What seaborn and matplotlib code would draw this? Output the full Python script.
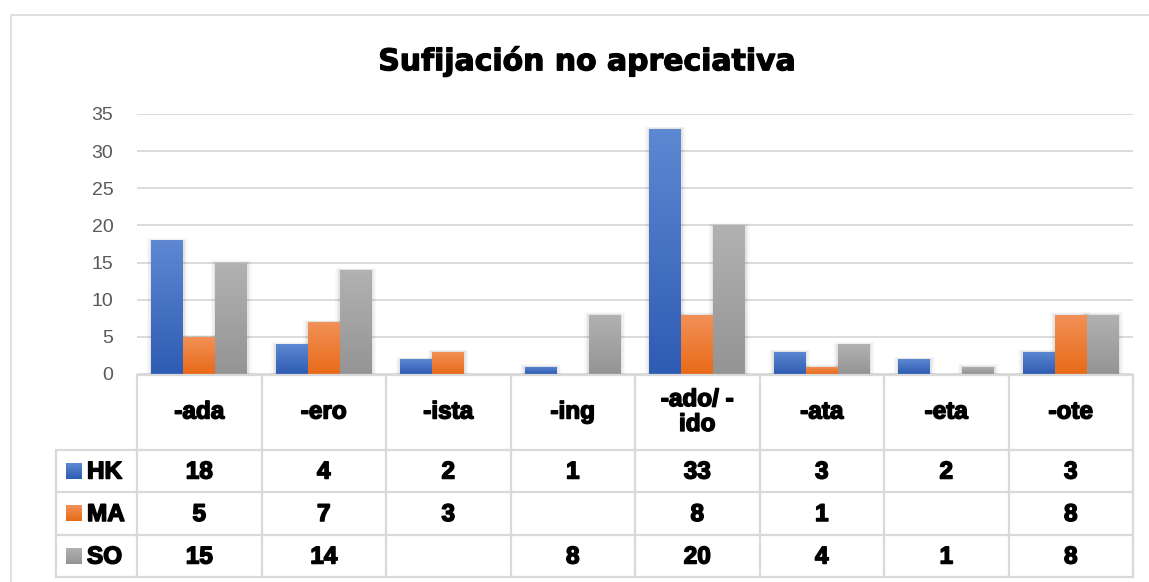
import numpy as np
import pandas as pd
import matplotlib
matplotlib.use("Agg")
import matplotlib.pyplot as plt
from matplotlib.patches import Rectangle
import matplotlib.patheffects as pe
import seaborn as sns

# ---------------- data ----------------
categories = ["-ada", "-ero", "-ista", "-ing", "-ado/ -\nido", "-ata", "-eta", "-ote"]
series = ["HK", "MA", "SO"]
hk = [18, 4, 2, 1, 33, 3, 2, 3]
ma = [5, 7, 3, np.nan, 8, 1, np.nan, 8]
so = [15, 14, np.nan, 8, 20, 4, 1, 8]
yticks = [0, 5, 10, 15, 20, 25, 30, 35]
title = "Sufijación no apreciativa"

values = {"HK": hk, "MA": ma, "SO": so}
rows = []
for s in series:
    for c, v in zip(categories, values[s]):
        rows.append({"suffix": c, "series": s, "value": v})
df = pd.DataFrame(rows)

base_colors = {"HK": "#4472C4", "MA": "#ED7D31", "SO": "#A5A5A5"}
grad_colors = {"HK": ("#5E88D2", "#2E5CB3"),
               "MA": ("#F29158", "#E86A18"),
               "SO": ("#B2B2B2", "#949494")}

sns.set_theme(style="white")
plt.rcParams["font.family"] = ["Liberation Sans", "DejaVu Sans"]

W, H = 1149, 582
fig = plt.figure(figsize=(W / 100, H / 100), dpi=100)
fig.patch.set_facecolor("white")

x0, x1, y_top, y_bot = 137, 1133, 114, 374
ax = fig.add_axes([x0 / W, 1 - y_bot / H, (x1 - x0) / W, (y_bot - y_top) / H])

sns.barplot(data=df, x="suffix", y="value", hue="series", order=categories,
            hue_order=series, palette=base_colors, width=0.77, gap=0,
            errorbar=None, saturation=1, legend=False, ax=ax, zorder=3,
            linewidth=0, edgecolor="none")

ax.set_xlim(-0.5, len(categories) - 0.5)
ax.set_ylim(0, 35)
ax.autoscale(False)

# gradient fill on each bar
grad = np.linspace(0, 1, 256).reshape(-1, 1)
n_cat = len(categories)
for patch in list(ax.patches):
    x, y = patch.get_x(), patch.get_y()
    w, h = patch.get_width(), patch.get_height()
    if not np.isfinite(h) or h == 0:
        continue
    fc = matplotlib.colors.to_hex(patch.get_facecolor())
    s = [k for k, v in base_colors.items() if v.lower() == fc.lower()]
    s = s[0] if s else "HK"
    top, bot = grad_colors[s]
    cmap = matplotlib.colors.LinearSegmentedColormap.from_list("g", [bot, top])
    # soft shadow
    for i, a in enumerate([0.05, 0.035, 0.025]):
        d = 0.012 * (i + 1)
        sh = Rectangle((x - d, y), w + 2 * d, h + d * 8, facecolor="#000000",
                       alpha=a, edgecolor="none", zorder=2)
        ax.add_patch(sh)
    im = ax.imshow(grad, extent=[x, x + w, y, y + h], origin="lower",
                   cmap=cmap, aspect="auto", zorder=4, interpolation="bilinear")
    im.set_clip_path(patch)

ax.set_yticks(yticks)
ax.set_yticklabels([str(t) for t in yticks])
ax.yaxis.grid(True, color="#D9D9D9", linewidth=1.3, zorder=0)
ax.set_axisbelow(True)
for sp in ax.spines.values():
    sp.set_visible(False)
ax.tick_params(axis="y", length=0, pad=17, labelsize=14, labelcolor="#595959")
ax.tick_params(axis="x", length=0, labelbottom=False)
ax.set_xlabel("")
ax.set_ylabel("")
ax.set_facecolor("none")

# ---------------- overlay in pixel coordinates ----------------
fig.canvas.draw()
ov = fig.add_axes([0, 0, 1, 1], zorder=5)
ov.set_xlim(0, W)
ov.set_ylim(H, 0)
ov.axis("off")
ov.patch.set_alpha(0)

lc = "#D9D9D9"
heavy = [pe.withStroke(linewidth=1.1, foreground="black")]
# outer chart border
ov.plot([11, 11, W], [H, 15, 15], color=lc, lw=1.2, solid_capstyle="butt")

# title
ov.text(587, 61, title, ha="center", va="center", fontsize=21.5,
        fontweight="bold", family="DejaVu Sans", color="black",
        path_effects=[pe.withStroke(linewidth=0.9, foreground="black")])

# column edges from the bar axes' category scale
edges = [ax.transData.transform((i - 0.5, 0))[0] for i in range(n_cat + 1)]
centers = [ax.transData.transform((i, 0))[0] for i in range(n_cat)]
left_col = 56
t_top, t_head, t_rows = 375, 450, [450, 492, 535, 577]

tl = 1.6
ov.plot([edges[0], edges[-1]], [t_top, t_top], color=lc, lw=tl)
for yy in t_rows:
    ov.plot([left_col, edges[-1]], [yy, yy], color=lc, lw=tl)
for e in edges:
    ov.plot([e, e], [t_top, t_rows[-1]], color=lc, lw=tl)
ov.plot([left_col, left_col], [t_head, t_rows[-1]], color=lc, lw=tl)

fs = 17.5
for c, xc in zip(categories, centers):
    ov.text(xc, 412, c, ha="center", va="center", fontsize=fs,
            fontweight="bold", color="black", linespacing=1.1,
            path_effects=heavy)

for r, s in enumerate(series):
    yc = (t_rows[r] + t_rows[r + 1]) / 2
    top, bot = grad_colors[s]
    cmap = matplotlib.colors.LinearSegmentedColormap.from_list("g", [top, bot])
    ov.imshow(grad, extent=[66, 82, yc - 8, yc + 8], cmap=cmap, aspect="auto",
              origin="lower", interpolation="bilinear")
    ov.text(87, yc + 1, s, ha="left", va="center", fontsize=fs,
            fontweight="bold", color="black", path_effects=heavy)
    for v, xc in zip(values[s], centers):
        if np.isfinite(v):
            ov.text(xc, yc + 1, f"{int(v)}", ha="center", va="center",
                    fontsize=fs, fontweight="bold", color="black",
                    path_effects=heavy)
ov.set_xlim(0, W)
ov.set_ylim(H, 0)

fig.savefig("out.png", dpi=100, facecolor="white")
